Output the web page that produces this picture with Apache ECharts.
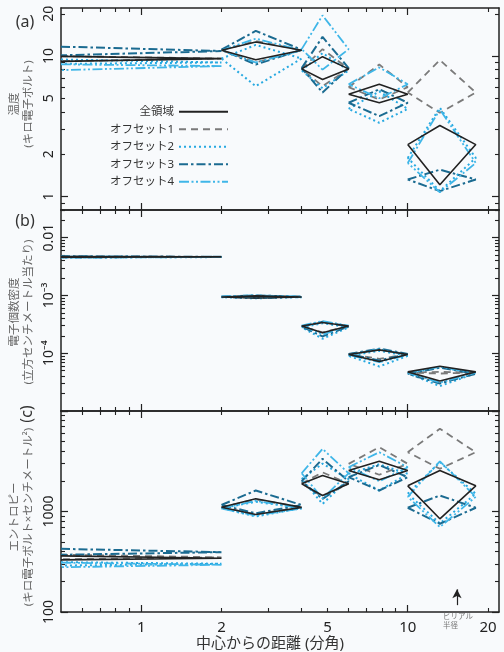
<!DOCTYPE html>
<html><head><meta charset="utf-8">
<script src="https://cdn.jsdelivr.net/npm/echarts@6/dist/echarts.min.js"></script>
<style>html,body{margin:0;padding:0;background:#f8fafc}#c{width:504px;height:652px}</style>
</head><body><div id="c"></div>
<script>
// ---------------- data ----------------
const seriesNames = ['全領域', 'オフセット1', 'オフセット2', 'オフセット3', 'オフセット4'];
// radial bins (arcmin); the innermost bin runs from the axis minimum to 2'
const innerBinEdge = 0.5;
const innerBinOuter = 2;
const binLo = [2, 4, 6, 10];
const binHi = [4, 6, 10, 18];
const binMid = [2.69, 4.79, 7.82, 13.2];
const virialRadius = 15.3;

// rows: [value, upper, lower]; row 0 = innermost bin (upper/lower read at the left edge)
// (a) temperature (keV)
const tempAll  = [[9.58, 9.95, 9.16], [11.0, 12.6, 9.4], [8.1, 9.9, 6.8], [5.35, 6.3, 4.65], [2.34, 3.2, 1.21]];
const tempOff1 = [[9.6, 10.0, 9.2], [11.0, 12.8, 9.0], [8.1, 11.2, 6.1], [6.0, 8.7, 4.9], [5.5, 9.36, 3.94]];
const tempOff2 = [[9.0, 9.45, 8.8], [9.6, 12.0, 6.1], [7.9, 10.5, 5.9], [4.2, 5.6, 3.35], [1.88, 4.28, 1.09]];
const tempOff3 = [[10.86, 11.67, 10.12], [11.1, 15.1, 8.7], [8.2, 13.7, 5.5], [4.65, 5.8, 3.73], [1.32, 1.55, 1.09]];
const tempOff4 = [[8.48, 8.73, 7.94], [11.0, 13.3, 9.0], [11.2, 19.5, 8.0], [6.3, 8.3, 5.0], [1.73, 4.16, 1.07]];
// (b) electron number density (cm^-3)
const densAll  = [[4.63e-3, 4.7e-3, 4.56e-3], [9.4e-4, 9.8e-4, 9.0e-4], [2.95e-4, 3.4e-4, 2.25e-4], [9.5e-5, 1.14e-4, 7.2e-5], [4.75e-5, 5.95e-5, 3.3e-5]];
const densOff1 = [[4.63e-3, 4.72e-3, 4.55e-3], [9.5e-4, 9.9e-4, 9.1e-4], [2.9e-4, 3.4e-4, 2.3e-4], [9.6e-5, 1.15e-4, 8.0e-5], [4.6e-5, 4.75e-5, 4.45e-5]];
const densOff2 = [[4.6e-3, 4.68e-3, 4.5e-3], [9.3e-4, 9.7e-4, 8.9e-4], [2.8e-4, 3.3e-4, 1.78e-4], [9.0e-5, 1.1e-4, 5.9e-5], [4.5e-5, 5.7e-5, 2.7e-5]];
const densOff3 = [[4.65e-3, 4.75e-3, 4.55e-3], [9.5e-4, 1.0e-3, 9.0e-4], [2.9e-4, 3.5e-4, 1.95e-4], [9.7e-5, 1.2e-4, 7.5e-5], [4.4e-5, 5.6e-5, 3.0e-5]];
const densOff4 = [[4.6e-3, 4.7e-3, 4.5e-3], [9.6e-4, 1.0e-3, 9.2e-4], [3.0e-4, 3.6e-4, 2.1e-4], [9.3e-5, 1.18e-4, 7.0e-5], [4.6e-5, 5.8e-5, 3.1e-5]];
// (c) entropy (keV cm^2)
const entAll  = [[343, 362, 330], [1100, 1340, 933], [1885, 2280, 1443], [2560, 3160, 2065], [1800, 2560, 846]];
const entOff1 = [[350, 372, 335], [1100, 1320, 940], [1900, 2450, 1400], [2980, 4365, 2320], [3890, 6650, 2660]];
const entOff2 = [[302, 313, 290], [1080, 1250, 892], [2100, 3000, 1190], [2370, 2950, 1618], [1500, 3100, 760]];
const entOff3 = [[394, 425, 371], [1160, 1618, 960], [2000, 3345, 1337], [2195, 2900, 1618], [1090, 1443, 755]];
const entOff4 = [[295, 310, 279], [1070, 1280, 910], [2400, 4200, 1350], [2760, 3890, 2000], [1400, 3160, 700]];

// axes ranges & ticks
const xRange = [0.5, 22];
const xMajor = [1, 10];
const xMinor = [0.6, 0.7, 0.8, 0.9, 2, 3, 4, 5, 6, 7, 8, 9, 20];
const xLabels = [1, 2, 5, 10, 20];
const yRangeA = [0.8, 22];
const yMajorA = [1, 10];
const yMinorA = [0.8, 0.9, 2, 3, 4, 5, 6, 7, 8, 9, 20];
const yLabelsA = [1, 2, 5, 10, 20];
const yRangeB = [1e-5, 0.03];
const yMajorB = [1e-5, 1e-4, 1e-3, 1e-2];
const yMinorB = [2e-5, 3e-5, 4e-5, 5e-5, 6e-5, 7e-5, 8e-5, 9e-5, 2e-4, 3e-4, 4e-4, 5e-4, 6e-4, 7e-4, 8e-4, 9e-4, 2e-3, 3e-3, 4e-3, 5e-3, 6e-3, 7e-3, 8e-3, 9e-3, 0.02, 0.03];
const yLabelsB = [1e-4, 1e-3, 1e-2];
const yRangeC = [100, 10000];
const yMajorC = [100, 1000, 10000];
const yMinorC = [200, 300, 400, 500, 600, 700, 800, 900, 2000, 3000, 4000, 5000, 6000, 7000, 8000, 9000];
const yLabelsC = [100, 1000];
// virial-radius arrow (entropy-axis values of its tail and head)
const arrowFrom = 117, arrowTo = 168;

// ---------------- build ----------------
const L = Math.log10;
const FONT = "'Noto Sans', 'Noto Sans CJK JP', sans-serif";
const INK = '#222';
const styles = [
  { color: '#222222', type: 'solid', width: 1.6 },
  { color: '#7a7a7a', type: [7, 5], width: 1.8 },
  { color: '#27a9e1', type: [2, 3], width: 2 },
  { color: '#1b6b91', type: [9, 3, 2.5, 3], width: 2 },
  { color: '#3fb6e8', type: [10, 2.5, 2, 2.5, 2, 2.5], width: 1.8 }
];
const grids = [
  { left: 61, right: 5, top: 8, height: 202 },
  { left: 61, right: 5, top: 210, height: 201 },
  { left: 61, right: 5, top: 411, height: 201 }
];
const panels = [
  { range: yRangeA, major: yMajorA, minor: yMinorA, labels: yLabelsA, rows: [tempAll, tempOff1, tempOff2, tempOff3, tempOff4] },
  { range: yRangeB, major: yMajorB, minor: yMinorB, labels: yLabelsB, rows: [densAll, densOff1, densOff2, densOff3, densOff4] },
  { range: yRangeC, major: yMajorC, minor: yMinorC, labels: yLabelsC, rows: [entAll, entOff1, entOff2, entOff3, entOff4] }
];

const supDigits = { '0': '⁰', '1': '¹', '2': '²', '3': '³', '4': '⁴', '5': '⁵', '6': '⁶', '7': '⁷', '8': '⁸', '9': '⁹' };
function fmtY(v) {
  const e = Math.round(v);
  if (Math.abs(v - e) < 1e-9 && e < -2) return '10⁻' + String(-e).split('').map(c => supDigits[c]).join('');
  const x = Math.pow(10, v);
  if (x < 1) return String(Number(x.toPrecision(3)));
  return String(Math.round(x));
}

function overlayAxes(dim, gi, range, major, minor, labels, showLabels) {
  const isX = dim === 'x';
  const pos = isX ? ['bottom', 'top'] : ['left', 'right'];
  const out = [];
  pos.forEach((p, k) => {
    out.push({
      type: 'value', gridIndex: gi, position: p, min: L(range[0]), max: L(range[1]),
      axisLine: { show: true, onZero: false, lineStyle: { color: INK, width: 1.5 } },
      axisTick: { show: true, inside: true, length: 7, customValues: major.map(L), lineStyle: { color: INK, width: 1.2 } },
      axisLabel: (k === 0 && showLabels) ? {
        show: true, customValues: labels.map(L), formatter: isX ? (v => String(Math.round(Math.pow(10, v)))) : fmtY,
        margin: isX ? 8 : 5, fontSize: isX ? 15 : 14, color: INK, fontFamily: FONT, rotate: isX ? 0 : 90
      } : { show: false },
      splitLine: { show: false }
    });
    out.push({
      type: 'value', gridIndex: gi, position: p, min: L(range[0]), max: L(range[1]),
      axisLine: { show: false, onZero: false },
      axisTick: { show: true, inside: true, length: 4, customValues: minor.map(L), lineStyle: { color: INK, width: 1.1 } },
      axisLabel: { show: false }, splitLine: { show: false }
    });
  });
  return out;
}

const xAxis = [], yAxis = [], series = [];
panels.forEach((pn, gi) => {
  xAxis.push({ type: 'log', logBase: 10, gridIndex: gi, min: xRange[0], max: xRange[1], show: false, axisLine: { onZero: false } });
  xAxis.push(...overlayAxes('x', gi, xRange, xMajor, xMinor, xLabels, gi === 2));
  yAxis.push({ type: 'log', logBase: 10, gridIndex: gi, min: pn.range[0], max: pn.range[1], show: false, axisLine: { onZero: false } });
  yAxis.push(...overlayAxes('y', gi, pn.range, pn.major, pn.minor, pn.labels, true));
});

function diamondData(rows) {
  const d = [];
  const [v0, h0, l0] = rows[0];
  d.push([innerBinEdge, h0], [innerBinOuter, v0], [innerBinEdge, l0], ['-', '-']);
  for (let i = 0; i < binLo.length; i++) {
    const [v, h, l] = rows[i + 1];
    d.push([binLo[i], v], [binMid[i], h], [binHi[i], v], [binMid[i], l], [binLo[i], v], ['-', '-']);
  }
  return d;
}

panels.forEach((pn, gi) => {
  [1, 2, 3, 4, 0].forEach(si => {
    const s = {
      name: seriesNames[si], type: 'line', xAxisIndex: gi * 5, yAxisIndex: gi * 5,
      data: diamondData(pn.rows[si]), symbol: 'none', symbolSize: 0, showSymbol: false, connectNulls: false,
      lineStyle: { color: styles[si].color, type: styles[si].type, width: styles[si].width },
      itemStyle: { color: styles[si].color }, animation: false, z: si === 0 ? 5 : 3
    };
    if (gi === 2 && si === 0) {
      s.markLine = {
        silent: true, animation: false, symbol: ['none', 'arrow'], symbolSize: [7, 9],
        label: { show: false }, lineStyle: { color: INK, width: 1.2, type: 'solid' },
        data: [[{ coord: [virialRadius, arrowFrom] }, { coord: [virialRadius, arrowTo] }]]
      };
    }
    series.push(s);
  });
});

function txt(x, y, text, o) {
  o = o || {};
  return {
    type: 'text', x: x, y: y, rotation: o.rot || 0, z: 10,
    style: {
      text: text, fontSize: o.size || 12, fontFamily: FONT, fill: o.color || '#333',
      textAlign: o.align || 'center', align: o.align || 'center',
      textVerticalAlign: o.va || 'middle', verticalAlign: o.va || 'middle', lineHeight: o.lh || undefined
    }
  };
}

const chart = echarts.init(document.getElementById('c'), null, { renderer: 'canvas' });
chart.setOption({
  backgroundColor: '#f8fafc',
  animation: false,
  textStyle: { fontFamily: FONT },
  grid: grids,
  xAxis: xAxis,
  yAxis: yAxis,
  legend: {
    data: seriesNames, orient: 'vertical', align: 'right', right: 275, top: 106, padding: 0,
    itemWidth: 49, itemHeight: 12, itemGap: 6,
    itemStyle: { opacity: 0, borderWidth: 0 },
    textStyle: { fontSize: 11.5, color: '#333', fontFamily: FONT }
  },
  series: series,
  graphic: [
    txt(25, 22, '(a)', { size: 16 }),
    txt(25, 221, '(b)', { size: 16 }),
    txt(27, 414, '(c)', { size: 16, rot: Math.PI / 2 }),
    txt(22, 104, '温度\n(キロ電子ボルト)', { size: 11.5, color: '#666', rot: Math.PI / 2, lh: 14 }),
    txt(22, 312, '電子個数密度\n(立方センチメートル当たり)', { size: 11.5, color: '#666', rot: Math.PI / 2, lh: 14 }),
    txt(22, 517, 'エントロピー\n(キロ電子ボルト×センチメートル²)', { size: 11.5, color: '#666', rot: Math.PI / 2, lh: 14 }),
    txt(270, 644, '中心からの距離 (分角)', { size: 15, color: '#333' }),
    txt(443, 613, 'ビリアル\n半径', { size: 7.5, color: '#777', align: 'left', va: 'top', lh: 8.5 })
  ]
});
</script></body></html>
